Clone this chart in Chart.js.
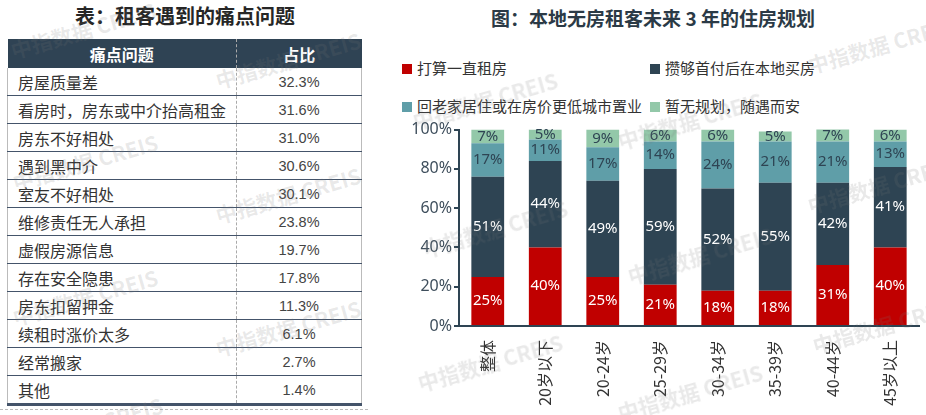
<!DOCTYPE html>
<html>
<head>
<meta charset="utf-8">
<script src="https://cdn.jsdelivr.net/npm/chart.js@4.4.1/dist/chart.umd.min.js"></script>
<style>
  html, body { margin: 0; padding: 0; background: #fff; }
  body { width: 926px; height: 415px; position: relative; overflow: hidden;
         font-family: "Noto Sans CJK SC", "Noto Sans", sans-serif; }
  .title { position: absolute; font-weight: bold; color: #262626; white-space: nowrap; }
  #leftTitle { left: 0; width: 370px; top: 3px; font-size: 20px; line-height: 26px; text-align: center; }
  #rightTitle { left: 380px; width: 546px; top: 5px; font-size: 19px; line-height: 26px; text-align: center; color: #2b3a46; }
  #frame { position: absolute; left: 0; top: 409px; width: 368px; border-top: 1px dashed #bbb; }
  table { position: absolute; left: 7px; top: 39px; width: 354px; border-collapse: collapse; table-layout: fixed; }
  th { background: #2f4354; color: #fff; font-size: 16px; font-weight: bold; height: 29px; padding: 0; text-align: center; }
  td { height: 27px; padding: 0; font-size: 16px; color: #333; border-bottom: 1.5px solid #44546a; }
  td.name { padding-left: 10px; border-left: 1px solid #bbb; border-right: 1px dashed #aaa; }
  td.val { text-align: center; border-right: 1px solid #bbb; font-family: "Liberation Sans", sans-serif; font-size: 14.5px; color: #444; }
  th.name { border-right: 1px dashed #aaa; }
  tr:last-child td { border-bottom: 3px solid #44546a; }
  #legend { position: absolute; left: 402px; top: 56px; width: 520px; font-size: 15px; color: #333; }
  .item { position: absolute; white-space: nowrap; line-height: 24px; }
  .item i { display: inline-block; width: 10px; height: 10px; margin-right: 5px; vertical-align: -0px; }
  #chartBox { position: absolute; left: 380px; top: 118px; width: 546px; height: 297px; }
  .wm { position: absolute; font-size: 21px; font-weight: bold; color: rgba(120,120,120,0.16);
        white-space: nowrap; transform: translate(-50%, -50%) rotate(-16deg); pointer-events: none;
        font-family: "Noto Sans CJK SC", sans-serif; }
</style>
</head>
<body>
<div id="leftTitle" class="title">表：租客遇到的痛点问题</div>
<div id="rightTitle" class="title">图：本地无房租客未来 3 年的住房规划</div>
<div id="frame"></div>
<table id="painTable">
  <colgroup><col style="width:229px"><col style="width:125px"></colgroup>
  <thead><tr><th class="name">痛点问题</th><th>占比</th></tr></thead>
  <tbody></tbody>
</table>
<div id="legend"></div>
<div id="chartBox"><canvas id="planChart"></canvas></div>
<div id="marks"></div>
<script>
// left table data
const painPoints = ['房屋质量差', '看房时，房东或中介抬高租金', '房东不好相处', '遇到黑中介', '室友不好相处',
  '维修责任无人承担', '虚假房源信息', '存在安全隐患', '房东扣留押金', '续租时涨价太多', '经常搬家', '其他'];
const painShares = ['32.3%', '31.6%', '31.0%', '30.6%', '30.1%', '23.8%', '19.7%', '17.8%', '11.3%', '6.1%', '2.7%', '1.4%'];

// right chart data
const ageGroups = ['整体', '20岁以下', '20-24岁', '25-29岁', '30-34岁', '35-39岁', '40-44岁', '45岁以上'];
const seriesNames = ['打算一直租房', '攒够首付后在本地买房', '回老家居住或在房价更低城市置业', '暂无规划，随遇而安'];
const rentForever = [25, 40, 25, 21, 18, 18, 31, 40];
const buyLocal = [51, 44, 49, 59, 52, 55, 42, 41];
const returnHome = [17, 11, 17, 14, 24, 21, 21, 13];
const noPlan = [7, 5, 9, 6, 6, 5, 7, 6];
const yTicks = [0, 20, 40, 60, 80, 100];

const seriesColors = ['#c00000', '#2e4453', '#5f9ea8', '#93c8a9'];
const labelColors = ['#ffffff', '#ffffff', '#2e4453', '#2e4453'];

// build the table
const tbody = document.querySelector('#painTable tbody');
painPoints.forEach((p, i) => {
  const tr = document.createElement('tr');
  tr.innerHTML = '<td class="name">' + p + '</td><td class="val">' + painShares[i] + '</td>';
  tbody.appendChild(tr);
});

// legend in two fixed columns
const legend = document.getElementById('legend');
seriesNames.forEach((name, i) => {
  const d = document.createElement('div');
  d.className = 'item';
  d.style.left = (i % 2 === 0 ? 0 : 248) + 'px';
  d.style.top = (i < 2 ? 0 : 38) + 'px';
  d.innerHTML = '<i style="background:' + seriesColors[i] + '"></i>' + name;
  legend.appendChild(d);
});

// watermarks
const markSpots = [[83, 30], [288, 60], [85, 162], [288, 195], [85, 297], [288, 328], [90, 425],
  [485, 100], [690, 120], [880, 45], [495, 228], [700, 255], [880, 185], [490, 362], [690, 392], [885, 325]];
const marks = document.getElementById('marks');
markSpots.forEach(s => {
  const w = document.createElement('div');
  w.className = 'wm';
  w.style.left = s[0] + 'px';
  w.style.top = s[1] + 'px';
  w.textContent = '中指数据 CREIS';
  marks.appendChild(w);
});

// value labels in the middle of each segment
const segmentLabels = {
  id: 'segmentLabels',
  afterDatasetsDraw(chart) {
    const ctx = chart.ctx;
    ctx.save();
    ctx.font = '15px "Noto Sans", "Noto Sans CJK SC", sans-serif';
    ctx.textAlign = 'center';
    ctx.textBaseline = 'middle';
    chart.data.datasets.forEach((ds, di) => {
      const meta = chart.getDatasetMeta(di);
      ctx.fillStyle = labelColors[di];
      meta.data.forEach((bar, i) => {
        const top = Math.max(bar.y, chart.chartArea.top);
        ctx.fillText(ds.data[i] + '%', bar.x, (top + bar.base) / 2);
      });
    });
    ctx.restore();
  }
};

const seriesData = [rentForever, buyLocal, returnHome, noPlan];
const axisColor = '#2e4453';

new Chart(document.getElementById('planChart'), {
  type: 'bar',
  data: {
    labels: ageGroups,
    datasets: seriesNames.map((name, i) => ({
      label: name,
      data: seriesData[i],
      backgroundColor: seriesColors[i],
      borderWidth: 0,
      categoryPercentage: 1,
      barPercentage: 0.57
    }))
  },
  options: {
    responsive: true,
    maintainAspectRatio: false,
    animation: false,
    layout: { padding: { top: 11, right: 7, left: 0, bottom: 0 } },
    plugins: {
      legend: { display: false },
      tooltip: { enabled: false }
    },
    scales: {
      x: {
        stacked: true,
        grid: { display: false },
        border: { color: axisColor, width: 2 },
        ticks: {
          minRotation: 90,
          maxRotation: 90,
          padding: 6,
          color: '#333',
          font: { size: 16, family: '"Noto Sans CJK SC", "Noto Sans", sans-serif' }
        },
        afterFit(scale) { scale.height = 89; }
      },
      y: {
        stacked: true,
        min: 0,
        max: 100,
        grid: { drawOnChartArea: false, drawTicks: true, tickLength: 5, color: axisColor, lineWidth: 2 },
        border: { color: axisColor, width: 2 },
        afterBuildTicks(scale) { scale.ticks = yTicks.map(v => ({ value: v })); },
        ticks: {
          padding: 2,
          color: '#3e4e5c',
          font: { size: 16, family: '"Noto Sans", "Noto Sans CJK SC", sans-serif' },
          callback: v => v + '%'
        },
        afterFit(scale) { scale.width = 79; }
      }
    }
  },
  plugins: [segmentLabels]
});
</script>
</body>
</html>
